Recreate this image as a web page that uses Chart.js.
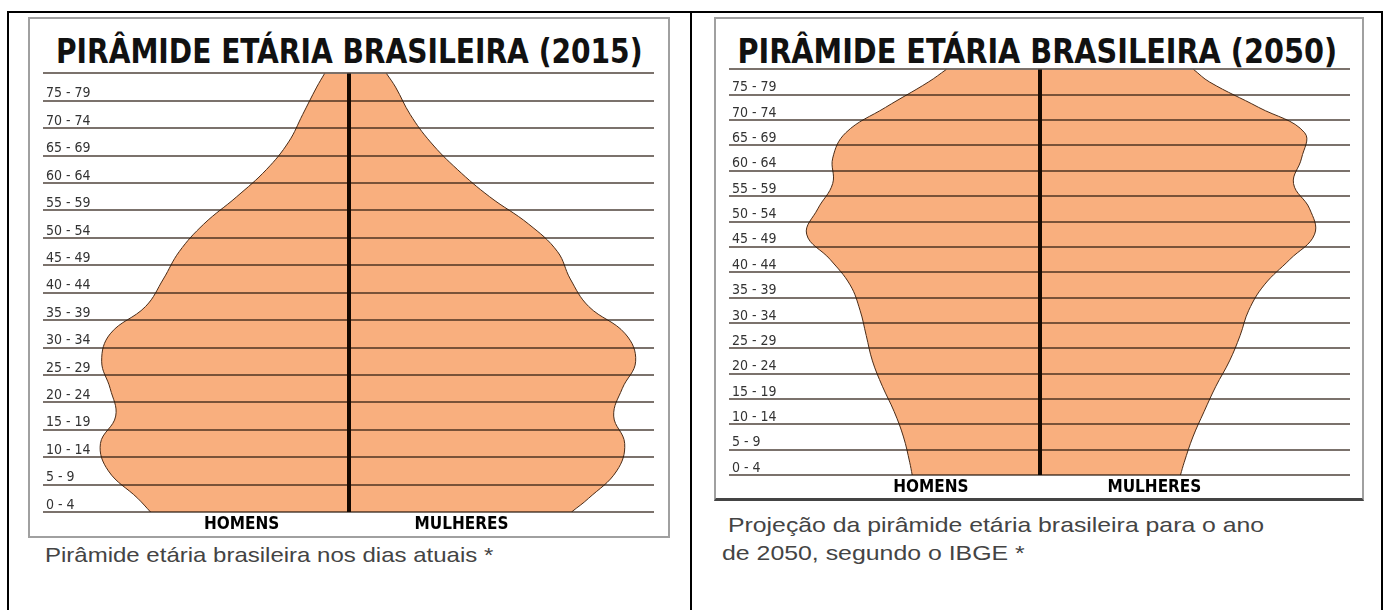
<!DOCTYPE html>
<html>
<head>
<meta charset="utf-8">
<script src="https://cdn.jsdelivr.net/npm/chart.js@4.4.1/dist/chart.umd.min.js"></script>
<style>
  body { margin: 0; background: #fff; width: 1387px; height: 610px; overflow: hidden; position: relative; font-family: 'Liberation Sans', Arial, sans-serif; }
  .frame { position: absolute; left: 7px; top: 11px; width: 1372px; height: 640px; border: 2px solid #000; }
  .divider { position: absolute; left: 690px; top: 11px; width: 2px; height: 620px; background: #000; }
  .box { position: absolute; border: 2px solid #a0a0a0; background: #fff; }
  #boxL { left: 28px; top: 17px; width: 638px; height: 517px; }
  #boxR { left: 714px; top: 17px; width: 646px; height: 479px; border-bottom: 3px solid #444; }
  .title { position: absolute; top: 34px; font: bold 34px 'DejaVu Sans Condensed', 'Liberation Sans Narrow', sans-serif; line-height: 34px; color: #111; white-space: nowrap; transform-origin: center center; }
  .wrap { position: absolute; }
  .caption { position: absolute; font-size: 21px; line-height: 21px; color: #444; white-space: nowrap; transform-origin: left center; }
</style>
</head>
<body>
<div class="frame"></div>
<div class="divider"></div>
<div class="box" id="boxL"></div>
<div class="box" id="boxR"></div>

<div class="title" data-cx="349.5" data-w="587">PIRÂMIDE ETÁRIA BRASILEIRA (2015)</div>
<div class="title" data-cx="1037" data-w="600">PIRÂMIDE ETÁRIA BRASILEIRA (2050)</div>

<div class="wrap" style="left:31px; top:62px;"><canvas id="chart2015" width="634" height="472"></canvas></div>
<div class="wrap" style="left:716px; top:58px;"><canvas id="chart2050" width="645" height="438"></canvas></div>

<div class="caption" data-w="448" style="left:45px; top:544px;">Pirâmide etária brasileira nos dias atuais *</div>
<div class="caption" data-w="536" style="left:728px; top:514px;">Projeção da pirâmide etária brasileira para o ano</div>
<div class="caption" data-w="303" style="left:722px; top:542px;">de 2050, segundo o IBGE *</div>

<script>
// age groups (bottom to top) and the outline points: bottom edge, band centres, top edge
const ageGroups = ['0 - 4', '5 - 9', '10 - 14', '15 - 19', '20 - 24', '25 - 29', '30 - 34', '35 - 39',
                   '40 - 44', '45 - 49', '50 - 54', '55 - 59', '60 - 64', '65 - 69', '70 - 74', '75 - 79'];
const agePoints = [0, 2.5, 7.5, 12.5, 17.5, 22.5, 27.5, 32.5, 37.5, 42.5, 47.5, 52.5, 57.5, 62.5, 67.5, 72.5, 77.5, 80];

// 2015 (share of population, %)
const men2015   = [3.24, 3.45, 3.93, 4.06, 3.81, 3.90, 4.04, 3.90, 3.32, 3.03, 2.77, 2.37, 1.83, 1.34, 0.98, 0.75, 0.52, 0.39];
const women2015 = [3.65, 3.93, 4.39, 4.52, 4.34, 4.48, 4.70, 4.53, 3.93, 3.63, 3.42, 2.95, 2.31, 1.78, 1.34, 1.01, 0.77, 0.62];

// 2050 projection
const men2050   = [2.05, 2.09, 2.19, 2.34, 2.53, 2.69, 2.79, 2.89, 3.05, 3.37, 3.75, 3.57, 3.33, 3.33, 3.12, 2.48, 1.79, 1.50];
const women2050 = [2.27, 2.33, 2.47, 2.65, 2.84, 3.06, 3.23, 3.37, 3.62, 4.03, 4.43, 4.35, 4.09, 4.22, 4.27, 3.53, 2.74, 2.48];

// where the HOMENS / MULHERES labels sit on the x axis
const sexTicks = [-1.75, 0, 1.85];
const sexLabels = ['HOMENS', '', 'MULHERES'];

const condensed = "'DejaVu Sans Condensed', 'Liberation Sans Narrow', sans-serif";

function side(values, sign) {
    return values.map((v, i) => ({ x: sign * v, y: agePoints[i] }));
}

function makePyramid(id, men, women, pad, axisH) {
    const ctx = document.getElementById(id).getContext('2d');
    const shape = {
        borderColor: '#4a2c18',
        borderWidth: 1,
        backgroundColor: '#f9af7e',
        fill: 'origin',
        tension: 0.4,
        pointRadius: 0
    };
    return new Chart(ctx, {
        type: 'line',
        data: {
            datasets: [
                Object.assign({ label: 'Homens', data: side(men, -1) }, shape),
                Object.assign({ label: 'Mulheres', data: side(women, 1) }, shape)
            ]
        },
        options: {
            responsive: false,
            animation: false,
            indexAxis: 'y',
            layout: { padding: pad },
            plugins: { legend: { display: false }, tooltip: { enabled: false } },
            scales: {
                x: {
                    type: 'linear',
                    min: -5,
                    max: 5,
                    border: { display: false },
                    afterBuildTicks: (s) => { s.ticks = sexTicks.map(v => ({ value: v })); },
                    afterFit: (s) => { s.height = axisH; },
                    grid: {
                        z: 2,
                        drawTicks: false,
                        color: (c) => c.tick && c.tick.value === 0 ? '#140800' : 'rgba(0,0,0,0)',
                        lineWidth: (c) => c.tick && c.tick.value === 0 ? 4 : 0
                    },
                    ticks: {
                        padding: 2,
                        color: '#000',
                        font: { family: condensed, size: 17, weight: 'bold' },
                        callback: (v, i) => sexLabels[i]
                    }
                },
                y: {
                    type: 'linear',
                    min: 0,
                    max: 80,
                    border: { display: false },
                    afterFit: (s) => { s.width = 0; },
                    grid: { z: 1, drawTicks: false, color: 'rgba(35,20,10,0.6)', lineWidth: 2 },
                    ticks: {
                        z: 1,
                        stepSize: 5,
                        autoSkip: false,
                        mirror: true,
                        padding: 3,
                        labelOffset: -7,
                        color: '#333',
                        font: { family: condensed, size: 14 },
                        callback: (v) => v < 80 ? ageGroups[v / 5] : ''
                    }
                }
            }
        }
    });
}

makePyramid('chart2015', men2015, women2015, { left: 12, right: 11, top: 8, bottom: 0 }, 22);
makePyramid('chart2050', men2050, women2050, { left: 13, right: 11, top: 8, bottom: 0 }, 21);

// squeeze the titles and captions to the width they have in the picture
document.querySelectorAll('.title').forEach(el => {
    const w = el.offsetWidth;
    el.style.left = (+el.dataset.cx - w / 2) + 'px';
    el.style.transform = 'scaleX(' + (+el.dataset.w / w) + ')';
});
document.querySelectorAll('.caption').forEach(el => {
    el.style.transform = 'scaleX(' + (+el.dataset.w / el.offsetWidth) + ')';
});
</script>
</body>
</html>
